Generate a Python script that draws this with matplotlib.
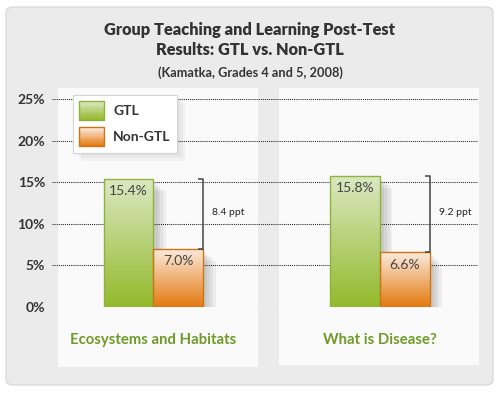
import matplotlib
matplotlib.use("Agg")
import matplotlib.pyplot as plt
import numpy as np
from matplotlib.patches import FancyBboxPatch, Rectangle, Patch
from matplotlib.legend_handler import HandlerBase
from matplotlib.colors import LinearSegmentedColormap
import matplotlib.patheffects as pe

plt.rcParams["font.family"] = ["Lato", "DejaVu Sans"]
plt.rcParams["lines.scale_dashes"] = False

# data
categories = ["Ecosystems and Habitats", "What is Disease?"]
series = ["GTL", "Non-GTL"]
gtl = [15.4, 15.8]
non_gtl = [7.0, 6.6]
yticks = [0, 5, 10, 15, 20, 25]

W, H = 500, 396
GREEN = ("#dbe8c2", "#93ba2c", "#8db33c")   # top, bottom, edge
ORANGE = ("#fcebdf", "#e27a0e", "#cf7416")
TXT = "#333333"


def fx(px):
    return px / W


def fy(py):
    return 1 - py / H


class GradientHandler(HandlerBase):
    def __init__(self, top, bottom, edge):
        super().__init__()
        self.top, self.bottom, self.edge = top, bottom, edge

    def create_artists(self, legend, orig_handle, xd, yd, width, height,
                       fontsize, trans):
        cmap = LinearSegmentedColormap.from_list("g", [self.bottom, self.top])
        n = 16
        arts = []
        for k in range(n):
            r = Rectangle((-xd, -yd + height * k / n), width, height / n + 0.3,
                          facecolor=cmap(k / (n - 1)), edgecolor="none",
                          transform=trans)
            arts.append(r)
        arts.append(Rectangle((-xd, -yd), width, height, facecolor="none",
                              edgecolor=self.edge, lw=1.0, transform=trans))
        return arts


fig = plt.figure(figsize=(W / 100, H / 100), dpi=100)
fig.patch.set_facecolor("white")

# outer rounded gray box
fig.patches.append(FancyBboxPatch((fx(6), fy(385)), fx(487), (378) / H,
                                  boxstyle="round,pad=0,rounding_size=0.015",
                                  transform=fig.transFigure, facecolor="#ebebeb",
                                  edgecolor="#dadada", lw=1.0, zorder=-2))
# white panels
for left, right, bottom in [(58, 258, 367), (279, 479, 365)]:
    fig.patches.append(Rectangle((fx(left), fy(bottom)), fx(right - left),
                                 (bottom - 88) / H, transform=fig.transFigure,
                                 facecolor="#fafafa", edgecolor="none", zorder=-1))

fig.text(0.5, fy(30), "Group Teaching and Learning Post-Test", ha="center",
         va="center", fontsize=11.8, fontweight="heavy", color=TXT)
fig.text(0.5, fy(50), "Results: GTL vs. Non-GTL", ha="center", va="center",
         fontsize=11.8, fontweight="heavy", color=TXT)
fig.text(0.5, fy(73), "(Kamatka, Grades 4 and 5, 2008)", ha="center",
         va="center", fontsize=9.2, fontweight="bold", color=TXT)

ax = fig.add_axes([fx(52), fy(307), fx(478 - 52), (307 - 99) / H])
ax.set_zorder(2)
ax.patch.set_alpha(0)
for s in ax.spines.values():
    s.set_visible(False)

x = np.arange(len(categories))
w = 0.22
xlim = (-0.448, 1.433)

ax.set_ylim(0, 25)
ax.set_xlim(*xlim)
ax.set_yticks(yticks)
ax.set_yticklabels([f"{v}%" for v in yticks], fontsize=10, fontweight="bold",
                   color=TXT)
ax.tick_params(axis="y", length=0, pad=5)
ax.set_xticks([])
ax.grid(axis="y", color="#222222", linestyle=(0, (0.75, 0.75)), lw=0.75,
        zorder=1)
ax.set_axisbelow(True)

shadow = [pe.SimplePatchShadow(offset=(o, -o), shadow_rgbFace="#000000",
                               alpha=0.05) for o in (3, 5, 7, 9)] + [pe.Normal()]

for vals, xs, (top, bottom, edge) in [(gtl, x - w / 2, GREEN),
                                      (non_gtl, x + w / 2, ORANGE)]:
    bars = ax.bar(xs, vals, width=w, color="none", edgecolor=edge, lw=1.0,
                  zorder=3)
    cmap = LinearSegmentedColormap.from_list("c", [top, bottom])
    grad = np.linspace(0, 1, 100).reshape(-1, 1)
    for b, v in zip(bars, vals):
        sh = Rectangle((b.get_x(), 0), b.get_width(), v, facecolor="white",
                       edgecolor="none", zorder=2.5, path_effects=shadow)
        ax.add_patch(sh)
        im = ax.imshow(grad, cmap=cmap, aspect="auto", zorder=2.8,
                       extent=[b.get_x(), b.get_x() + b.get_width(), 0, v],
                       origin="upper")
        im.set_clip_path(b)
        ax.annotate(f"{v:.1f}%", (b.get_x() + b.get_width() / 2, v),
                    xytext=(0, -9), textcoords="offset points", ha="center",
                    va="center", fontsize=10, color="#444444", zorder=4)

ax.set_xlim(*xlim)
ax.set_ylim(0, 25)

# difference brackets
for i in range(len(categories)):
    xr = x[i] + w
    ax.plot([xr - 0.022, xr, xr, xr - 0.022],
            [gtl[i], gtl[i], non_gtl[i], non_gtl[i]],
            color="#444444", lw=1.1, zorder=5, solid_capstyle="butt")
    ax.annotate(f"{gtl[i] - non_gtl[i]:.1f} ppt", (xr, (gtl[i] + non_gtl[i]) / 2),
                xytext=(6.5, 1), textcoords="offset points", ha="left",
                va="center", fontsize=7.5, color="#222222", zorder=5)
    ax.annotate(categories[i], (x[i], 0), xytext=(0, -24),
                textcoords="offset points", ha="center", va="center",
                fontsize=10.7, fontweight="bold", color="#6e9a27",
                annotation_clip=False)

handles = [Patch(label=s) for s in series]
leg = ax.legend(handles, series, loc="upper left",
                bbox_to_anchor=((73 - 52) / (478 - 52), 1.02),
                fontsize=10, handlelength=1.75, handleheight=1.75,
                handletextpad=0.7, labelspacing=0.5, borderpad=0.45,
                borderaxespad=0, frameon=True, fancybox=False,
                handler_map={handles[0]: GradientHandler(*GREEN),
                             handles[1]: GradientHandler(*ORANGE)})
for t in leg.get_texts():
    t.set_color(TXT)
    t.set_fontweight("bold")
fr = leg.get_frame()
fr.set_facecolor("white")
fr.set_edgecolor("#d5d5d5")
fr.set_linewidth(0.8)
fr.set_alpha(1)
fr.set_path_effects([pe.SimplePatchShadow(offset=(o, -o), alpha=0.05)
                     for o in (2, 4, 6)] + [pe.Normal()])
leg.set_zorder(6)

fig.savefig("out.png", dpi=100)
